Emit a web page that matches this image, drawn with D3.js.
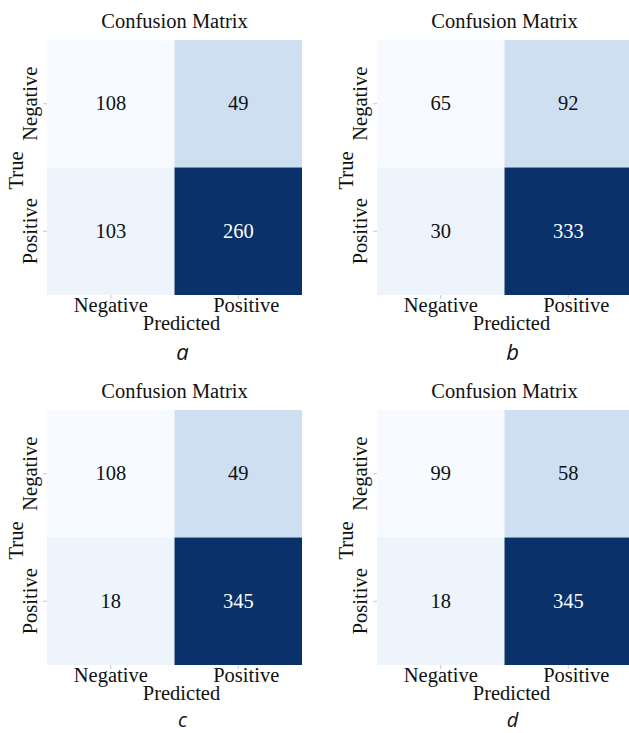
<!DOCTYPE html>
<html>
<head>
<meta charset="utf-8">
<script src="https://cdn.jsdelivr.net/npm/d3@7"></script>
<style>
  html, body { margin: 0; padding: 0; background: #ffffff; }
  svg { display: block; }
  .serif { font-family: "Liberation Serif", "Times New Roman", Times, serif; }
</style>
</head>
<body>
<script>
// ---- data ----
const classLabels = ["Negative", "Positive"];
const panelLetters = ["a", "b", "c", "d"];
const matrixA = [[108, 49], [103, 260]];
const matrixB = [[65, 92], [30, 333]];
const matrixC = [[108, 49], [18, 345]];
const matrixD = [[99, 58], [18, 345]];
const matrices = [matrixA, matrixB, matrixC, matrixD];
const titleText = "Confusion Matrix";
const xTitle = "Predicted";
const yTitle = "True";

// ---- style ----
const cellColors = [["#f7fbff", "#cedff1"], ["#edf4fc", "#0a3169"]];
const textColors = [["#111", "#111"], ["#111", "#ffffff"]];

const W = 629, H = 733;
const svg = d3.select("body").append("svg").attr("width", W).attr("height", H);
svg.append("rect").attr("width", W).attr("height", H).attr("fill", "#fff");

const size = 255;
const origins = [[47, 40], [377, 40], [47, 410], [377, 410]];
const letterOffsets = [65, 65, 62, 62];
const letterSizes = [22, 22, 20, 20];

const x = d3.scaleBand().domain(classLabels).range([0, size]);
const y = d3.scaleBand().domain(classLabels).range([0, size]);

matrices.forEach((m, pi) => {
  const [ox, oy] = origins[pi];
  const g = svg.append("g").attr("transform", `translate(${ox},${oy})`);

  const cells = [];
  classLabels.forEach((tr, i) => classLabels.forEach((pr, j) => cells.push({tr, pr, i, j, v: m[i][j]})));

  g.selectAll("rect.cell").data(cells).enter().append("rect")
    .attr("class", "cell")
    .attr("x", d => x(d.pr)).attr("y", d => y(d.tr))
    .attr("width", x.bandwidth()).attr("height", y.bandwidth())
    .attr("fill", d => cellColors[d.i][d.j]);

  g.selectAll("text.val").data(cells).enter().append("text")
    .attr("class", "val serif")
    .attr("x", d => x(d.pr) + x.bandwidth() / 2)
    .attr("y", d => y(d.tr) + y.bandwidth() / 2 + 6.5)
    .attr("text-anchor", "middle")
    .attr("font-size", 20.5)
    .attr("fill", d => textColors[d.i][d.j])
    .text(d => d.v);

  // x axis
  const xa = g.append("g").attr("transform", `translate(0,${size})`)
    .call(d3.axisBottom(x).tickSize(4).tickSizeOuter(0));
  xa.attr("font-family", null).attr("font-size", null);
  xa.select(".domain").remove();
  xa.selectAll(".tick line").attr("stroke", "#bbb").attr("stroke-width", 0.8);
  xa.selectAll(".tick text")
    .attr("class", "serif")
    .attr("y", 17).attr("dy", 0)
    .attr("dx", (d, i) => i === 1 ? 8 : 0)
    .attr("font-size", 20.5).attr("fill", "#111");

  // y axis
  const ya = g.append("g").call(d3.axisLeft(y).tickSize(4).tickSizeOuter(0));
  ya.attr("font-family", null).attr("font-size", null);
  ya.select(".domain").remove();
  ya.selectAll(".tick line").attr("stroke", "#bbb").attr("stroke-width", 0.8);
  ya.selectAll(".tick text")
    .attr("class", "serif")
    .attr("x", 0).attr("dy", 0)
    .attr("transform", "translate(-10,0) rotate(-90)")
    .attr("text-anchor", "middle")
    .attr("font-size", 20.5).attr("fill", "#111");

  // titles
  g.append("text").attr("class", "serif").attr("x", size / 2).attr("y", -12)
    .attr("text-anchor", "middle").attr("font-size", 20.5)
    .attr("fill", "#111").text(titleText);
  g.append("text").attr("class", "serif").attr("x", size / 2 + 7).attr("y", size + 35)
    .attr("text-anchor", "middle").attr("font-size", 20.5)
    .attr("fill", "#111").text(xTitle);
  g.append("text").attr("class", "serif").attr("transform", `translate(-24,${size / 2 + 3}) rotate(-90)`)
    .attr("text-anchor", "middle").attr("font-size", 20.5)
    .attr("fill", "#111").text(yTitle);

  // panel letter
  g.append("text").attr("x", size / 2 + 8).attr("y", size + letterOffsets[pi])
    .attr("text-anchor", "middle").attr("font-family", "'Open Sans', 'Noto Sans', sans-serif")
    .attr("font-style", "italic").attr("font-size", letterSizes[pi]).attr("fill", "#111")
    .text(panelLetters[pi]);
});
</script>
</body>
</html>
